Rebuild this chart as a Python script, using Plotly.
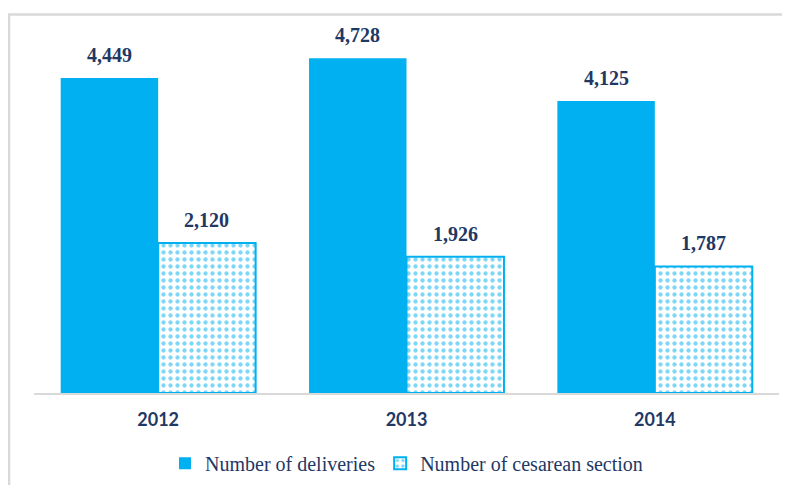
import plotly.graph_objects as go

years = ["2012", "2013", "2014"]
deliveries = [4449, 4728, 4125]
cesarean = [2120, 1926, 1787]
series_names = ["Number of deliveries", "Number of cesarean section"]

BLUE = "#00B0F0"
NAVY = "#1F3864"
GREY = "#D9D9D9"

fig = go.Figure()
fig.add_trace(go.Bar(
    x=years, y=deliveries, name=series_names[0],
    marker=dict(color=BLUE, line=dict(width=0)),
    hoverinfo="skip",
))
fig.add_trace(go.Bar(
    x=years, y=cesarean, name=series_names[1],
    marker=dict(
        color="white",
        line=dict(color=BLUE, width=2),
        pattern=dict(shape=".", fgcolor=BLUE, bgcolor="white", size=7, solidity=0.3),
    ),
    hoverinfo="skip",
))

# value labels above each bar (x given as category index)
half = 48.8
for vals, shift in ((deliveries, -half), (cesarean, half)):
    for i, v in enumerate(vals):
        fig.add_annotation(
            x=i, y=v, text=f"<b>{v:,}</b>", showarrow=False,
            xshift=shift, yshift=10, yanchor="bottom",
            font=dict(family="Liberation Serif", size=20, color=NAVY),
        )

# chart frame (partly cropped in the source)
fig.add_shape(
    type="rect", xref="paper", yref="paper",
    x0=-0.0335, x1=1.05, y0=-0.4, y1=1.069,
    line=dict(color=GREY, width=2.5), layer="below",
)

# page body has an 8px default margin, so offsets are reduced by 8
fig.update_layout(
    width=790, height=485,
    margin=dict(l=26, r=19, t=31, b=99),
    paper_bgcolor="white", plot_bgcolor="white",
    barmode="group", bargap=0.215, bargroupgap=0,
    showlegend=True,
    legend=dict(
        orientation="h", x=0.5, xanchor="center", y=-0.195, yanchor="middle",
        font=dict(family="Liberation Serif", size=20, color=NAVY),
        itemwidth=30, traceorder="normal",
    ),
    xaxis=dict(
        type="category", range=[-0.5, 2.5],
        showline=True, linecolor=GREY, linewidth=1.5,
        showgrid=False, ticks="outside", ticklen=10, tickcolor="white",
        tickfont=dict(family="Lato", size=18, color=NAVY, weight="bold"),
    ),
    yaxis=dict(range=[0, 5000], visible=False, showgrid=False),
)

fig.write_html("out.html")
